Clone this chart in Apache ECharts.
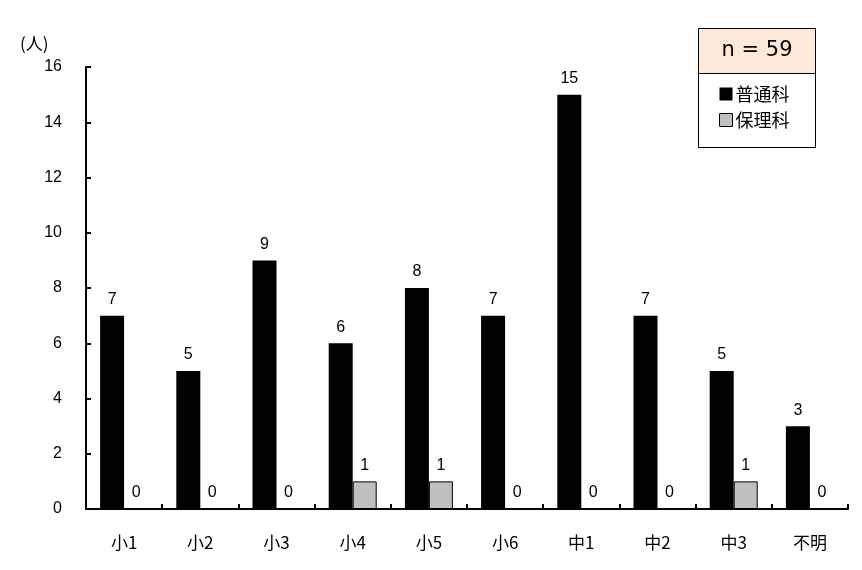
<!DOCTYPE html>
<html><head><meta charset="utf-8">
<script src="https://cdn.jsdelivr.net/npm/echarts@6/dist/echarts.min.js"></script>
<style>html,body{margin:0;padding:0;background:#fff}#c{width:862px;height:570px}</style>
</head><body><div id="c"></div>
<script>
const categories = ['小1','小2','小3','小4','小5','小6','中1','中2','中3','不明'];
const futsuka = [7,5,9,6,8,7,15,7,5,3];
const hoken = [0,0,0,1,1,0,0,0,1,0];
const yTicks = {min:0, max:16, interval:2};
const FONT = '"Noto Sans CJK JP", "Liberation Sans", sans-serif';

const chart = echarts.init(document.getElementById('c'));
chart.setOption({
  animation:false,
  backgroundColor:'#fff',
  grid:{left:86, right:14, top:67, bottom:61, containLabel:false},
  legend:{
    orient:'vertical', left:714, top:80, itemWidth:13, itemHeight:13, itemGap:8,
    icon:'rect',
    textStyle:{fontFamily:FONT, fontSize:18, color:'#000', padding:[0,0,0,-2]},
    data:[{name:'普通科', itemStyle:{color:'#000'}},{name:'保理科', itemStyle:{color:'#bfbfbf', borderColor:'#000', borderWidth:1}}]
  },
  graphic:[
    {type:'rect', shape:{x:698.5,y:28.5,width:117,height:45}, style:{fill:'#fde9d9', stroke:'#000', lineWidth:1}, z:-1},
    {type:'rect', shape:{x:698.5,y:73.5,width:117,height:74}, style:{fill:'#fff', stroke:'#000', lineWidth:1}, z:-1},
    {type:'text', x:757, y:51, style:{text:'n = 59', fontFamily:'"DejaVu Sans", sans-serif', fontSize:21, fill:'#000', textAlign:'center', textVerticalAlign:'middle'}},
    {type:'text', x:20, y:44, style:{text:'(人)', fontFamily:FONT, fontSize:17, fill:'#000', textAlign:'left', textVerticalAlign:'middle'}}
  ],
  xAxis:{
    type:'category', data:categories,
    axisLine:{lineStyle:{color:'#000', width:2}},
    axisTick:{show:true, inside:true, length:5, lineStyle:{color:'#000', width:2}},
    axisLabel:{fontFamily:FONT, fontSize:17, color:'#000', margin:25}
  },
  yAxis:{
    type:'value', min:yTicks.min, max:yTicks.max, interval:yTicks.interval,
    splitLine:{show:false},
    axisLine:{show:true, lineStyle:{color:'#000', width:2}},
    axisTick:{show:true, inside:true, length:5, lineStyle:{color:'#000', width:2}},
    axisLabel:{fontFamily:'"Liberation Sans", sans-serif', fontSize:16, color:'#000', margin:24}
  },
  series:[
    {name:'普通科', type:'bar', data:futsuka, barWidth:24, barGap:'0%',
     itemStyle:{color:'#000'},
     label:{show:true, position:'top', distance:8, fontFamily:'"Liberation Sans", sans-serif', fontSize:16, color:'#000'}},
    {name:'保理科', type:'bar', data:hoken, barWidth:24,
     itemStyle:{color:'#bfbfbf', borderColor:'#000', borderWidth:1},
     label:{show:true, position:'top', distance:8, fontFamily:'"Liberation Sans", sans-serif', fontSize:16, color:'#000'}}
  ]
});
</script></body></html>
